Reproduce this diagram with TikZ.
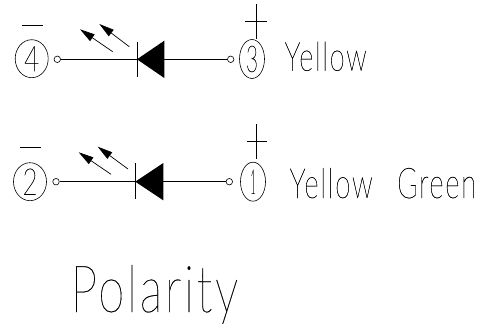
\documentclass[tikz,border=0pt]{standalone}
\usepackage{fontspec}
\usepackage{graphicx}
\newfontfamily\thinf[LetterSpace=6,FakeBold=0.5]{Lato Thin}
\newfontfamily\digitf[FakeBold=0.5]{Lato Thin}
\newfontfamily\capf[LetterSpace=6,FakeBold=0.3]{Lato Thin}
\usetikzlibrary{shapes.geometric,arrows.meta}
\tikzset{
  wire/.style={line width=0.8pt,black},
  pin/.style={ellipse,draw,line width=0.6pt,inner sep=0pt},
  wide/.style={pin,minimum width=33pt,minimum height=38pt},
  narrow/.style={pin,minimum width=25pt,minimum height=39pt},
  term/.style={circle,draw,line width=0.6pt,inner sep=0pt,minimum size=6.5pt},
  sign/.style={line width=0.7pt},
  ray/.style={line width=0.7pt,-{Triangle[length=15pt,width=8pt]}},
  lab/.style={inner sep=0pt,anchor=base west}
}
\newcommand{\txt}[3]{\resizebox{#1pt}{#2pt}{\thinf #3}}
\newcommand{\dig}[3]{\resizebox{#1pt}{#2pt}{\digitf #3}}
\begin{document}
\begin{tikzpicture}[x=1pt,y=-1pt]
\useasboundingbox (0,0) rectangle (494,331);
% top row
\node[wide] (p4) at (31.7,58.7) {\dig{15}{25}{4}};
\node[narrow] (p3) at (252,59) {\dig{12}{26}{3}};
\node[term] (t4) at (57.3,59.3) {};
\node[term] (t3) at (230.7,59.3) {};
\coordinate (a1) at (137,59.3);
\coordinate (b1) at (164.3,59.3);
\draw[wire] (t4) -- (a1);
\draw[wire] (t3) -- (b1);
\draw[wire] (137,41.7) -- (137,77.5);
\fill (a1) -- (164.3,40.7) -- (164.3,78) -- cycle;
\coordinate (r1a) at (112.7,51.7); \coordinate (r1b) at (80,29.3);
\coordinate (r2a) at (129.3,46.7); \coordinate (r2b) at (99.3,24);
\draw[ray] (r1a) -- (r1b);
\draw[ray] (r2a) -- (r2b);
\draw[sign] (21.7,25.7) -- (42.7,25.7);
\draw[sign] (245,21.7) -- (267,21.7);
\draw[sign] (256,4) -- (256,39);
\node[lab] (y1) at (284.5,70.7) {\txt{82}{29}{Yellow}};
% bottom row
\node[wide] (p2) at (30,181.7) {\dig{15}{26}{2}};
\node[narrow] (p1) at (253,181.7) {\dig{5}{24}{1}};
\node[term] (t2) at (56,181.7) {};
\node[term] (t1) at (229.3,181.7) {};
\coordinate (a2) at (135.3,181.7);
\coordinate (b2) at (163.3,181.7);
\draw[wire] (t2) -- (a2);
\draw[wire] (t1) -- (b2);
\draw[wire] (135.3,163.3) -- (135.3,199);
\fill (a2) -- (163.3,163) -- (163.3,200.3) -- cycle;
\coordinate (r3a) at (111,174.3); \coordinate (r3b) at (78.7,152.3);
\coordinate (r4a) at (128,169); \coordinate (r4b) at (97.7,146.7);
\draw[ray] (r3a) -- (r3b);
\draw[ray] (r4a) -- (r4b);
\draw[sign] (20,147.7) -- (41,147.7);
\draw[sign] (246.7,141.7) -- (267.3,141.7);
\draw[sign] (256.7,124.3) -- (256.7,159.3);
\node[lab] (y2) at (289.5,198) {\txt{83}{30}{Yellow}};
\node[lab] (g2) at (397,198) {\txt{79}{30}{Green}};
% caption
\node[lab] (pol) at (70.5,312) {\resizebox{167.5pt}{47pt}{\capf Polarity}};
\end{tikzpicture}
\end{document}
